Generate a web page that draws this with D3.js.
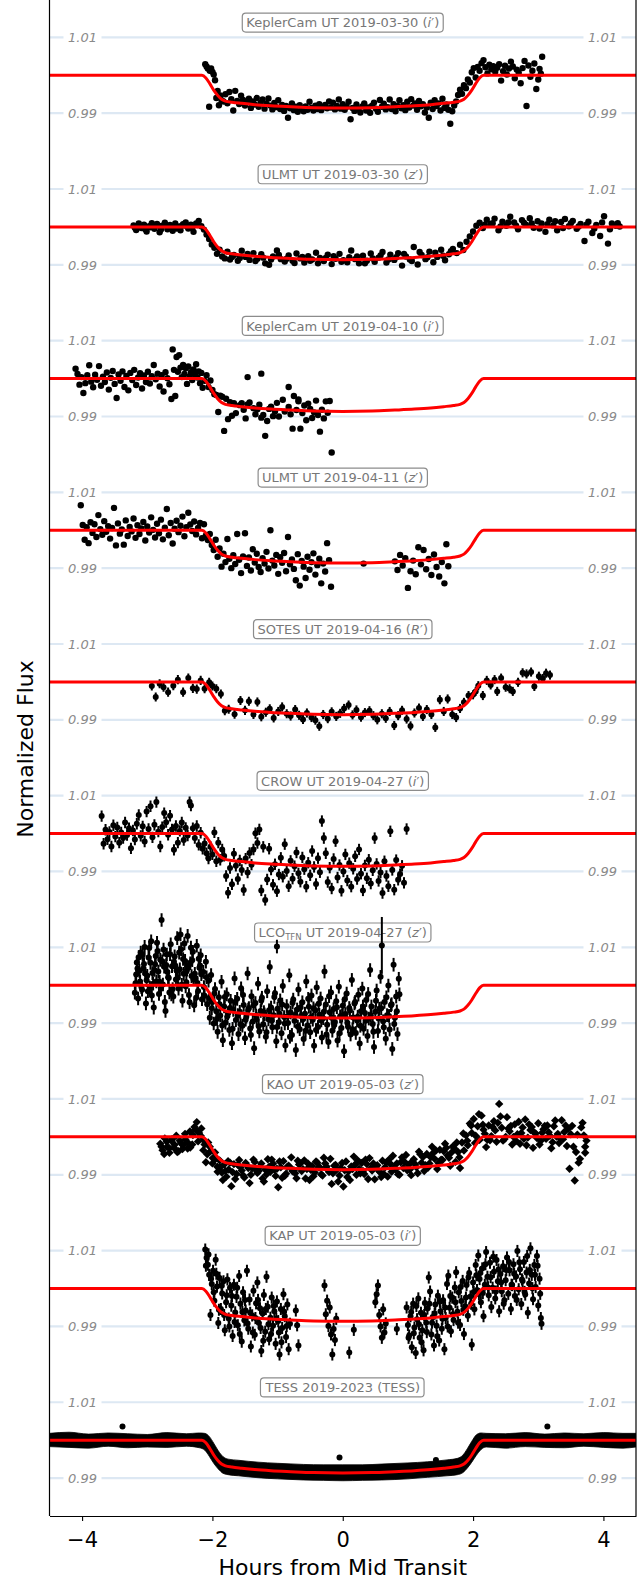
<!DOCTYPE html>
<html><head><meta charset="utf-8">
<script src="https://cdn.jsdelivr.net/npm/d3@7"></script>
<style>body{margin:0;background:#fff}svg{display:block}text{font-family:"DejaVu Sans",sans-serif}</style>
</head><body><svg id="chart" width="644" height="1580"></svg>
<script>
// ---------- data (hours from mid transit, flux deviation in ppt) ----------
const modelHours=[-4.5,-2.16,-2.10,-2.04,-1.98,-1.92,-1.86,-1.80,-1.70,-1.55,-1.35,-1.10,-0.80,-0.45,0,0.45,0.80,1.10,1.35,1.55,1.70,1.80,1.86,1.92,1.98,2.04,2.10,2.16,4.5];
const modelPpt=[0,0,-0.7,-2.2,-3.9,-5.3,-6.3,-6.8,-7.1,-7.4,-7.75,-8.05,-8.3,-8.55,-8.65,-8.55,-8.3,-8.05,-7.75,-7.4,-7.1,-6.8,-6.3,-5.3,-3.9,-2.2,-0.7,0,0];

const keplerCam0330=[[-2.11,2.9],[-2.09,2.3],[-2.07,1.8],[-2.05,-8.3],[-2.04,1.2],[-2.02,1.8],[-2.00,0.9],[-1.98,0.2],[-1.96,-1.3],[-1.94,-6.0],[-1.92,-4.1],[-1.90,-7.9],[-1.88,-5.3],[-1.86,-6.6],
[-1.83,-6.9],[-1.80,-5.0],[-1.77,-7.4],[-1.74,-4.4],[-1.71,-6.3],[-1.68,-9.3],[-1.65,-4.1],[-1.62,-6.8],[-1.59,-7.6],[-1.56,-5.4],[-1.53,-6.5],[-1.50,-8.0],[-1.47,-7.1],[-1.44,-6.2],[-1.41,-8.6],[-1.38,-6.9],[-1.35,-7.7],[-1.32,-6.0],[-1.29,-8.3],[-1.26,-7.2],[-1.23,-6.4],[-1.20,-8.8],[-1.17,-7.5],[-1.14,-6.1],[-1.11,-8.0],[-1.08,-9.0],[-1.05,-7.3],[-1.02,-8.4],[-0.99,-6.6],[-0.96,-8.9],[-0.93,-7.8],[-0.90,-9.4],[-0.87,-8.1],[-0.84,-11.2],[-0.81,-8.7],[-0.78,-7.4],[-0.75,-9.2],[-0.72,-8.3],[-0.69,-9.6],[-0.66,-7.9],[-0.63,-8.8],[-0.60,-9.5],[-0.57,-8.2],[-0.54,-9.1],[-0.51,-7.0],[-0.48,-8.6],[-0.45,-9.3],[-0.42,-8.0],[-0.39,-8.9],[-0.36,-7.6],[-0.33,-9.2],[-0.30,-8.4],[-0.27,-7.8],[-0.24,-8.7],[-0.21,-6.9],[-0.18,-8.5],[-0.15,-7.2],[-0.12,-9.0],[-0.09,-8.1],[-0.06,-6.4],[-0.03,-8.8],[0.00,-7.6],[0.03,-9.1],[0.06,-8.3],[0.09,-7.0],[0.12,-11.6],[0.15,-8.6],[0.18,-9.4],[0.21,-7.7],[0.24,-8.9],[0.27,-9.8],[0.30,-8.2],[0.33,-7.4],[0.36,-9.3],[0.39,-8.5],[0.42,-9.9],[0.45,-8.0],[0.48,-7.2],[0.51,-8.8],[0.54,-9.6],[0.57,-6.5],[0.60,-8.3],[0.63,-7.5],[0.66,-9.0],[0.69,-8.4],[0.72,-6.4],[0.75,-8.9],[0.78,-7.6],[0.81,-9.5],[0.84,-8.1],[0.87,-6.6],[0.90,-8.7],[0.93,-7.9],[0.96,-9.2],[0.99,-7.0],[1.02,-8.5],[1.05,-6.3],[1.08,-8.0],[1.11,-7.4],[1.14,-9.1],[1.17,-6.8],[1.20,-8.2],[1.23,-7.6],[1.26,-9.8],[1.29,-8.5],[1.32,-11.2],[1.35,-7.2],[1.38,-8.9],[1.41,-6.6],[1.44,-8.1],[1.47,-7.4],[1.50,-9.3],[1.53,-6.2],[1.56,-8.6],[1.59,-7.7],[1.62,-9.1],[1.65,-12.8],[1.68,-9.5],[1.71,-8.0],[1.74,-6.9],[1.77,-5.2],[1.80,-3.8],[1.83,-4.9],[1.86,-2.6],[1.89,-3.4],[1.92,-1.1],[1.95,-1.9],[1.98,0.8],[2.01,1.9],[2.04,-0.6],[2.07,2.2],
[2.10,1.2],[2.13,3.2],[2.16,4.0],[2.19,2.1],[2.22,0.5],[2.25,2.8],[2.28,1.6],[2.31,2.4],[2.34,0.9],[2.37,2.0],[2.40,2.9],[2.43,-1.4],[2.46,1.1],[2.49,2.5],[2.52,0.2],[2.55,1.8],[2.58,3.6],[2.61,2.3],[2.64,-0.8],[2.67,1.5],[2.70,0.7],[2.73,-2.1],[2.76,1.9],[2.79,3.8],[2.82,-8.1],[2.85,2.6],[2.88,-0.4],[2.91,1.2],[2.94,3.1],[2.97,-3.6],[3.00,-1.1],[3.02,1.7],[3.04,0.4],[3.06,4.9]];

const ulmt0330=[[-3.21,0.4],[-3.17,-0.8],[-3.13,0.9],[-3.09,-0.3],[-3.05,0.6],[-3.01,-1.2],[-2.97,0.2],[-2.93,1.0],[-2.89,-0.5],[-2.85,0.8],[-2.81,-1.4],[-2.77,0.3],[-2.73,1.1],[-2.69,-0.6],[-2.65,0.5],[-2.61,-1.0],[-2.57,0.9],[-2.53,0.1],[-2.49,-0.9],[-2.45,0.7],[-2.41,1.2],[-2.37,-0.4],[-2.33,0.6],[-2.29,-1.3],[-2.25,0.9],[-2.21,1.6],[-2.17,0.2],
[-2.13,-0.7],[-2.09,-2.0],[-2.05,-3.2],[-2.01,-4.6],[-1.97,-5.5],[-1.93,-7.1],[-1.89,-6.0],[-1.85,-7.8],[-1.81,-8.3],[-1.77,-6.5],
[-1.73,-8.6],[-1.67,-7.4],[-1.61,-8.9],[-1.55,-6.3],[-1.49,-7.9],[-1.43,-8.7],[-1.37,-6.9],[-1.31,-8.4],[-1.25,-7.2],[-1.19,-9.6],[-1.13,-10.0],[-1.07,-7.8],[-1.01,-6.2],[-0.95,-8.5],[-0.89,-9.1],[-0.83,-7.5],[-0.77,-8.9],[-0.71,-7.0],[-0.65,-8.3],[-0.59,-9.4],[-0.53,-7.7],[-0.47,-8.6],[-0.41,-6.8],[-0.35,-8.2],[-0.29,-9.0],[-0.23,-7.3],[-0.17,-9.8],[-0.11,-8.4],[-0.05,-7.1],[0.01,-8.8],[0.07,-9.3],[0.13,-6.2],[0.19,-8.5],[0.25,-9.6],[0.31,-7.6],[0.37,-8.9],[0.43,-7.0],[0.49,-9.2],[0.55,-8.1],[0.61,-6.6],[0.67,-9.4],[0.73,-7.3],[0.79,-8.7],[0.85,-6.9],[0.91,-10.2],[0.97,-7.8],[1.03,-8.6],[1.09,-5.3],[1.15,-9.9],[1.21,-7.4],[1.27,-8.5],[1.33,-6.5],[1.39,-9.3],[1.45,-7.9],[1.51,-6.0],[1.57,-8.8],[1.63,-7.2],[1.69,-5.8],[1.75,-6.9],
[1.80,-4.7],[1.85,-6.1],[1.90,-3.9],[1.95,-2.5],[2.00,-1.2],[2.05,0.3],[2.10,1.1],
[2.15,-0.3],[2.21,1.9],[2.27,0.8],[2.33,2.2],[2.39,-0.9],[2.45,1.4],[2.51,0.3],[2.57,2.7],[2.63,1.2],[2.69,-0.6],[2.75,1.8],[2.81,0.6],[2.87,2.3],[2.93,-0.2],[2.99,1.5],[3.05,0.9],[3.11,-1.3],[3.17,1.9],[3.23,0.4],[3.29,-0.9],[3.35,1.3],[3.41,2.1],[3.47,0.2],[3.53,1.6],[3.59,-0.5],[3.65,0.8],[3.71,-3.7],[3.77,1.4],[3.83,-1.6],[3.89,0.5],[3.95,-2.4],[4.01,2.8],[4.07,-4.4],[4.13,0.9],[4.19,0.3],[4.25,0.1],
[-3.19,-0.2],[-3.11,0.2],[-3.03,-0.6],[-2.95,-0.1],[-2.87,0.3],[-2.79,-0.7],[-2.71,0.4],[-2.63,0.0],[-2.55,-0.4],[-2.47,0.3],[-2.39,0.1],[-2.31,-0.2],[-2.23,0.5],
[-1.70,-7.9],[-1.58,-8.2],[-1.46,-7.1],[-1.34,-9.0],[-1.22,-8.1],[-1.10,-8.6],[-0.98,-7.4],[-0.86,-8.4],[-0.74,-9.5],[-0.62,-7.9],[-0.50,-8.9],[-0.38,-9.6],[-0.26,-8.2],[-0.14,-7.7],[-0.02,-9.2],[0.10,-8.0],[0.22,-7.8],[0.34,-9.6],[0.46,-8.3],[0.58,-7.5],[0.70,-8.6],[0.82,-8.0],[0.94,-7.1],[1.06,-9.0],[1.18,-6.6],[1.30,-8.0],[1.42,-6.8],[1.54,-7.6],[1.66,-6.4],
[2.18,0.6],[2.30,1.0],[2.42,0.1],[2.54,1.2],[2.66,0.3],[2.78,1.1],[2.90,0.9],[3.02,-0.4],[3.14,0.7],[3.26,1.5],[3.38,-0.3],[3.50,1.0],[3.62,0.1],[3.74,0.6],[3.86,-0.4],[3.98,1.2],[4.10,-0.6],[4.22,1.0]];

const keplerCam0410=[[-4.10,2.6],[-4.07,1.2],[-4.04,-1.6],[-4.01,0.4],[-3.98,-3.8],[-3.95,-1.2],[-3.92,0.9],[-3.89,3.5],[-3.86,-0.8],[-3.83,-2.3],[-3.80,1.0],[-3.77,-0.3],[-3.74,3.3],[-3.71,-1.9],[-3.68,0.5],[-3.65,-0.9],[-3.62,1.6],[-3.59,-2.9],[-3.56,0.2],[-3.53,2.0],[-3.50,-1.4],[-3.47,-5.1],[-3.44,1.1],[-3.41,-0.6],[-3.38,1.9],[-3.35,-2.2],[-3.32,0.7],[-3.29,-3.1],[-3.26,1.5],[-3.23,-0.4],[-3.20,2.3],[-3.17,-1.7],[-3.14,0.3],[-3.11,1.4],[-3.08,-2.6],[-3.05,0.8],[-3.02,-0.9],[-2.99,1.8],[-2.96,-1.3],[-2.93,0.6],[-2.90,3.6],[-2.87,-0.2],[-2.84,1.3],[-2.81,-2.1],[-2.78,0.9],[-2.75,-3.4],[-2.72,1.7],[-2.69,0.1],[-2.66,-1.5],[-2.63,-5.4],[-2.61,7.7],[-2.59,2.3],[-2.57,-4.6],[-2.55,5.7],[-2.53,1.8],[-2.51,6.2],[-2.49,2.9],[-2.47,0.4],[-2.45,3.6],[-2.43,1.2],[-2.41,2.7],[-2.39,-1.4],[-2.37,3.2],[-2.35,0.6],[-2.33,1.7],[-2.31,-0.4],[-2.29,2.4],[-2.27,1.1],[-2.25,3.8],[-2.23,0.3],[-2.21,1.9],[-2.19,-1.2],[-2.17,1.5],[-2.15,-2.4],
[-2.12,-0.6],[-2.09,0.9],[-2.06,-2.2],[-2.03,-0.5],[-2.00,-3.0],[-1.97,-4.1],[-1.94,-4.3],[-1.91,-8.8],[-1.88,-4.5],[-1.85,-4.8],[-1.82,-13.8],[-1.79,-5.3],[-1.76,-10.7],[-1.73,-6.2],[-1.70,-9.8],[-1.67,-6.5],[-1.64,-9.1],[-1.46,0.4],[-1.58,-7.0],[-1.55,-6.5],[-1.52,-8.2],[-1.49,-10.5],[-1.46,-6.8],[-1.43,-6.3],[-1.25,1.3],[-1.37,-7.8],[-1.34,-9.4],[-1.31,-8.1],[-1.28,-6.9],[-1.25,-10.3],[-1.22,-9.6],[-1.19,-15.1],[-1.16,-11.2],[-1.13,-8.0],[-1.10,-7.4],[-1.07,-9.9],[-1.04,-8.6],[-1.01,-6.4],[-0.98,-10.0],[-0.83,-2.2],[-0.92,-5.6],[-0.89,-8.7],[-0.75,-4.6],[-0.83,-7.5],[-0.80,-9.4],[-0.77,-13.2],[-0.68,-5.5],[-0.71,-8.3],[-0.68,-6.0],[-0.65,-13.2],[-0.62,-9.1],[-0.59,-7.1],[-0.56,-11.0],[-0.53,-6.6],[-0.50,-8.0],[-0.47,-10.4],[-0.44,-8.9],[-0.41,-5.8],[-0.38,-9.6],[-0.35,-14.0],[-0.32,-8.2],[-0.29,-10.5],[-0.26,-6.0],[-0.23,-9.0],[-0.20,-5.9],[-0.17,-19.5]];

const ulmt0411=[[-4.02,6.6],[-3.99,1.4],[-3.96,-2.5],[-3.93,0.8],[-3.90,-3.4],[-3.87,2.1],[-3.84,-0.7],[-3.81,1.6],[-3.78,-1.8],[-3.75,4.0],[-3.72,0.3],[-3.69,-1.2],[-3.66,2.4],[-3.63,-0.4],[-3.60,1.1],[-3.57,-2.2],[-3.54,0.6],[-3.51,5.9],[-3.48,-4.0],[-3.45,1.8],[-3.42,-0.9],[-3.39,0.2],[-3.36,-3.8],[-3.33,2.6],[-3.30,-1.5],[-3.27,0.9],[-3.24,-0.3],[-3.21,3.1],[-3.18,-2.0],[-3.15,1.3],[-3.12,-1.0],[-3.09,0.5],[-3.06,2.2],[-3.03,-2.7],[-3.00,1.0],[-2.97,-0.6],[-2.94,3.4],[-2.91,0.1],[-2.88,-1.9],[-2.85,1.7],[-2.82,-0.8],[-2.79,2.8],[-2.76,-2.4],[-2.73,0.7],[-2.70,5.6],[-2.67,-1.3],[-2.64,1.9],[-2.61,-3.5],[-2.58,0.4],[-2.55,2.5],[-2.52,-0.5],[-2.49,1.2],[-2.46,3.6],[-2.43,-1.6],[-2.40,0.8],[-2.37,4.6],[-2.34,1.5],[-2.31,-0.2],[-2.28,2.3],[-2.25,-1.1],[-2.22,0.6],[-2.19,1.9],[-2.16,-2.1],[-2.13,1.6],[-2.10,-1.4],
[-2.07,-2.6],[-2.04,-1.0],[-2.01,-3.9],[-1.98,-5.2],[-1.95,-2.5],[-1.92,-7.0],[-1.89,-4.8],[-1.86,-9.6],[-1.83,-6.2],[-1.80,-8.4],[-1.77,-2.3],[-1.74,-7.5],[-1.71,-10.0],[-1.68,-6.6],[-1.65,-8.9],[-1.62,-1.0],[-1.59,-7.8],[-1.56,-11.3],[-1.53,-6.9],[-1.50,-0.8],[-1.47,-9.4],[-1.44,-7.2],[-1.41,-10.6],[-1.38,-5.0],[-1.35,-8.5],[-1.32,-6.2],[-1.29,-9.7],[-1.26,-11.0],[-1.23,-7.4],[-1.20,-8.8],[-1.17,-5.7],[-1.14,-10.1],[-1.11,0.0],[-1.08,-8.0],[-1.05,-9.3],[-1.02,-6.5],[-0.99,-11.5],[-0.96,-7.1],[-0.93,-8.6],[-0.90,-6.0],[-0.87,-10.8],[-0.84,-1.8],[-0.81,-9.0],[-0.78,-7.7],[-0.75,-10.2],[-0.72,-13.2],[-0.69,-6.3],[-0.66,-14.6],[-0.63,-8.1],[-0.60,-9.6],[-0.57,-12.6],[-0.54,-7.0],[-0.51,-10.4],[-0.48,-8.4],[-0.45,-6.1],[-0.42,-11.7],[-0.39,-9.2],[-0.36,-7.5],[-0.33,-14.0],[-0.30,-8.8],[-0.27,-10.9],[-0.24,-3.4],[-0.21,-7.9],[-0.18,-14.9],
[0.32,-8.8],
[0.80,-8.2],[0.84,-10.5],[0.88,-6.5],[0.92,-9.3],[0.96,-7.4],[1.00,-15.2],[1.04,-10.8],[1.08,-8.0],[1.12,-11.6],[1.16,-4.5],[1.20,-9.0],[1.24,-5.2],[1.28,-10.3],[1.32,-7.6],[1.36,-11.8],[1.40,-6.4],[1.44,-9.7],[1.48,-12.2],[1.52,-8.4],[1.56,-14.0],[1.59,-3.7],[1.62,-9.5]];

const sotes0416=[[-2.93,-1.1],[-2.87,-4.0],[-2.81,-0.5],[-2.75,-1.4],[-2.68,-2.7],[-2.60,-1.0],[-2.53,0.6],[-2.45,-2.7],[-2.37,1.0],[-2.30,-1.7],[-2.24,-1.9],[-2.18,0.4],[-2.12,-1.8],[-2.05,-0.1],[-2.00,-1.1],[-1.94,-1.8],[-1.87,-3.2],[-1.81,-7.6],[-1.75,-7.2],[-1.66,-8.5],
[-1.57,-4.9],[-1.50,-7.5],[-1.44,-5.1],[-1.37,-8.6],[-1.31,-5.3],[-1.25,-9.2],[-1.18,-8.0],[-1.12,-7.1],[-1.06,-9.5],[-0.99,-7.8],[-0.93,-6.6],[-0.86,-8.4],[-0.80,-9.0],[-0.73,-7.3],[-0.67,-8.8],[-0.61,-9.9],[-0.55,-8.2],[-0.48,-9.4],[-0.42,-10.1],[-0.36,-11.7],[-0.30,-8.6],[-0.23,-9.7],[-0.17,-7.9],[-0.10,-9.1],[-0.04,-8.3],[0.02,-7.0],[0.09,-6.1],[0.15,-8.7],[0.21,-7.4],[0.28,-9.3],[0.34,-8.1],[0.41,-7.6],[0.47,-8.9],[0.53,-10.0],[0.60,-8.4],[0.66,-9.6],[0.72,-7.8],[0.79,-11.5],[0.85,-8.9],[0.91,-7.5],[0.98,-9.8],[1.04,-11.6],[1.10,-8.2],[1.17,-6.9],[1.23,-9.1],[1.29,-7.3],[1.36,-8.6],[1.42,-12.0],[1.49,-4.7],[1.55,-7.8],[1.61,-4.5],[1.68,-8.6],
[1.74,-9.4],[1.80,-7.0],[1.86,-5.4],[1.93,-3.6],[2.00,-3.4],[2.04,-2.5],[2.08,-1.0],
[2.15,-3.6],[2.21,0.4],[2.27,-0.8],[2.33,0.6],[2.37,-2.5],[2.43,1.0],[2.50,-1.4],[2.56,-1.8],[2.61,-2.5],[2.69,-0.1],[2.76,2.4],[2.82,2.1],[2.89,2.6],[2.94,-1.2],[3.01,1.5],[3.07,0.9],[3.12,2.3],[3.18,1.8]];

const crow0427=[[-3.70,4.6],[-3.67,-2.7],[-3.64,1.0],[-3.61,-1.5],[-3.58,0.4],[-3.55,-3.4],[-3.52,2.2],[-3.49,-0.8],[-3.46,1.6],[-3.43,-2.4],[-3.40,0.3],[-3.37,-1.2],[-3.34,2.9],[-3.31,-0.4],[-3.28,1.4],[-3.25,-3.9],[-3.22,0.8],[-3.19,-1.6],[-3.16,2.6],[-3.13,4.9],[-3.10,-0.6],[-3.07,1.9],[-3.04,-2.1],[-3.01,5.8],[-2.98,1.2],[-2.95,7.2],[-2.92,-1.0],[-2.89,2.3],[-2.86,8.3],[-2.83,0.5],[-2.80,-3.4],[-2.77,1.7],[-2.74,5.4],[-2.71,3.0],[-2.68,-0.3],[-2.65,4.7],[-2.62,1.1],[-2.59,-4.3],[-2.56,2.0],[-2.53,-2.4],[-2.50,0.7],[-2.47,2.9],[-2.44,-1.7],[-2.41,1.5],[-2.38,-0.5],[-2.35,8.3],[-2.33,7.4],[-2.30,1.4],[-2.27,-1.2],[-2.24,2.0],[-2.21,-3.0],[-2.18,0.2],[-2.15,-4.0],[-2.12,-2.6],[-2.09,-5.2],
[-2.06,-6.6],[-2.03,-3.5],[-2.00,-5.5],[-1.97,0.3],[-1.94,-7.3],[-1.91,-2.4],[-1.88,-6.9],[-1.85,-4.2],[-1.82,-5.9],[-1.79,-11.2],[-1.76,-15.6],[-1.73,-9.1],[-1.70,-13.4],[-1.67,-5.3],[-1.64,-8.5],[-1.61,-12.0],[-1.58,-7.1],[-1.55,-9.6],[-1.52,-14.9],[-1.49,-6.6],[-1.46,-10.3],[-1.43,-5.1],[-1.40,-8.2],[-1.37,-4.2],[-1.34,0.1],[-1.31,-2.5],[-1.28,1.1],[-1.25,-15.0],[-1.22,-3.5],[-1.19,-17.5],[-1.16,-12.1],[-1.13,-4.0],[-1.10,-9.5],[-1.07,-13.5],[-1.04,-8.1],[-1.01,-15.2],[-0.98,-10.8],[-0.95,-6.4],[-0.92,-11.4],[-0.89,-2.8],[-0.86,-9.9],[-0.83,-13.9],[-0.80,-7.2],[-0.77,-11.9],[-0.74,-8.6],[-0.71,-5.0],[-0.68,-10.5],[-0.65,-12.7],[-0.62,-6.3],[-0.59,-9.4],[-0.56,-14.0],[-0.53,-7.7],[-0.50,-11.0],[-0.47,-4.6],[-0.44,-8.8],[-0.41,-13.3],[-0.38,-6.5],[-0.35,-10.2],[-0.32,3.3],[-0.29,-1.2],[-0.26,-5.2],[-0.23,-12.8],[-0.20,-9.0],[-0.17,-14.5],[-0.14,-6.7],[-0.11,-2.0],[-0.08,-11.6],[-0.05,-8.3],[-0.02,-15.1],[0.01,-10.0],[0.04,-5.5],[0.07,-12.4],[0.10,-7.8],[0.13,-14.0],[0.16,-9.3],[0.19,-6.0],[0.22,-12.0],[0.25,-4.2],[0.28,-10.6],[0.31,-15.0],[0.34,-8.4],[0.37,-11.8],[0.40,-6.9],[0.43,-13.2],[0.46,-9.7],[0.49,-1.2],[0.52,-8.0],[0.55,-12.5],[0.58,-10.3],[0.61,-15.7],[0.64,-7.3],[0.67,-11.2],[0.70,-13.9],[0.73,0.6],[0.76,-9.6],[0.79,-14.8],[0.82,-7.0],[0.85,-12.2],[0.88,-10.7],[0.91,-8.5],[0.94,-13.0],[0.98,1.2]];

const lco0427=[[-3.18,0.5],[-3.16,6.0],[-3.14,-3.5],[-3.12,3.8],[-3.10,8.6],[-3.08,-1.2],[-3.06,4.4],[-3.04,10.1],[-3.02,-4.8],[-3.00,2.5],[-2.98,7.3],[-2.96,-0.6],[-2.94,11.6],[-2.92,3.2],[-2.90,-5.9],[-2.88,5.5],[-2.86,1.0],[-2.84,9.0],[-2.82,-2.3],[-2.80,6.7],[-2.78,17.2],[-2.76,0.2],[-2.74,4.9],[-2.72,-6.8],[-2.70,8.1],[-2.68,2.1],[-2.66,-1.9],[-2.64,10.8],[-2.62,5.0],[-2.60,-3.0],[-2.58,7.6],[-2.56,1.5],[-2.54,12.4],[-2.52,-0.9],[-2.50,4.2],[-2.48,9.5],[-2.46,-4.1],[-2.44,3.0],[-2.42,6.4],[-2.40,0.8],[-2.38,13.0],[-2.36,-2.6],[-2.34,5.8],[-2.32,2.4],[-2.30,8.8],[-2.28,-5.3],[-2.26,1.7],[-2.24,10.4],[-2.22,-1.5],[-2.20,4.6],[-2.18,7.9],[-2.16,-3.7],
[-2.14,3.5],[-2.12,-2.8],[-2.10,6.2],[-2.08,-5.0],[-2.06,1.2],[-2.04,-8.6],[-2.02,2.7],[-2.00,-4.4],[-1.98,-10.1],[-1.96,-1.0],[-1.94,-6.9],[-1.92,-12.3],[-1.90,-3.2],[-1.88,-8.0],[-1.86,0.9],[-1.84,-14.5],[-1.82,-5.6],[-1.80,-9.9],[-1.78,-2.4],[-1.76,-7.4],[-1.74,-11.8],[-1.72,-4.1],[-1.70,-15.3],[-1.68,-6.5],[-1.66,1.8],[-1.64,-9.2],[-1.62,-3.6],[-1.60,-12.9],[-1.58,-7.0],[-1.56,-0.8],[-1.54,-10.7],[-1.52,-5.2],[-1.50,-14.0],[-1.48,-8.3],[-1.46,3.1],[-1.44,-6.0],[-1.42,-11.4],[-1.40,-2.9],[-1.38,-9.6],[-1.36,-16.6],[-1.34,-4.7],[-1.32,-8.9],[-1.30,0.4],[-1.28,-12.2],[-1.26,-6.8],[-1.24,-3.3],[-1.22,-10.3],[-1.20,-7.7],[-1.18,-13.6],[-1.16,-1.6],[-1.14,-9.0],[-1.12,4.8],[-1.10,-5.9],[-1.08,-11.1],[-1.06,-7.9],[-1.04,-2.1],[-1.02,-14.8],[-1.01,10.2],[-1.00,-6.2],[-0.98,-9.8],[-0.96,-4.0],[-0.94,-12.7],[-0.92,-0.2],[-0.90,-8.4],[-0.88,-15.9],[-0.86,-5.5],[-0.84,-10.0],[-0.82,2.6],[-0.80,-7.2],[-0.78,-13.1],[-0.76,-3.8],[-0.74,-9.4],[-0.72,-17.1],[-0.70,-6.4],[-0.68,-1.1],[-0.66,-11.6],[-0.64,-8.1],[-0.62,-4.5],[-0.60,-14.2],[-0.58,-7.5],[-0.56,1.0],[-0.54,-10.6],[-0.52,-5.7],[-0.50,-12.4],[-0.48,-2.7],[-0.46,-9.1],[-0.44,-16.0],[-0.42,-6.6],[-0.40,-0.6],[-0.38,-11.0],[-0.36,-7.8],[-0.34,-3.5],[-0.32,-13.8],[-0.30,-8.7],[-0.28,3.6],[-0.26,-5.1],[-0.24,-10.4],[-0.22,-15.0],[-0.20,-7.1],[-0.18,-1.9],[-0.16,-12.0],[-0.14,-6.3],[-0.12,-9.7],[-0.10,-4.2],[-0.08,-14.6],[-0.06,-0.4],[-0.04,-8.2],[-0.02,-11.3],[0.00,-5.4],[0.02,-17.4],[0.04,-7.6],[0.06,-2.2],[0.08,-10.9],[0.10,-6.0],[0.12,-13.0],[0.14,1.4],[0.16,-8.5],[0.18,-4.8],[0.20,-12.6],[0.22,-9.3],[0.24,-2.5],[0.26,-15.4],[0.28,-6.9],[0.30,-0.9],[0.32,-11.5],[0.34,-7.3],[0.36,-3.9],[0.38,-13.4],[0.40,-8.8],[0.42,4.0],[0.44,-5.6],[0.46,-10.2],[0.48,-16.3],[0.50,-7.0],[0.52,-1.4],[0.54,-12.1],[0.56,-6.2],[0.58,2.2],[0.60,10.5,7.5],[0.62,-9.5],[0.64,-4.4],[0.66,-14.1],[0.68,-7.9],[0.70,-0.1],[0.72,-11.7],[0.74,-5.3],[0.76,-16.8],[0.78,5.4],[0.80,-8.6],[0.82,-3.0],[0.84,-12.9],[0.86,1.7],
[-3.17,2.8],[-3.13,7.4],[-3.09,-0.5],[-3.05,5.6],[-3.01,1.3],[-2.97,9.8],[-2.93,-2.7],[-2.89,4.0],[-2.85,11.2],[-2.81,0.9],[-2.77,6.3],[-2.73,-4.4],[-2.69,3.5],[-2.65,8.2],[-2.61,-1.0],[-2.57,5.1],[-2.53,2.0],[-2.49,13.4],[-2.45,6.9],[-2.41,-0.3],[-2.37,4.8],[-2.33,9.9],[-2.29,1.6],[-2.25,-3.3],[-2.21,7.0],[-2.17,2.9],
[-3.19,-2.0],[-3.15,4.4],[-3.11,1.0],[-3.07,8.0],[-3.03,3.1],[-2.99,-1.6],[-2.95,5.9],[-2.91,0.4],[-2.87,7.7],[-2.83,3.6],[-2.79,-0.9],[-2.75,9.4],[-2.71,5.3],[-2.67,1.9],[-2.63,-2.4],[-2.59,6.1],[-2.55,3.9],[-2.51,8.6],[-2.47,0.1],[-2.43,11.0],[-2.39,4.1],[-2.35,-4.5],[-2.31,6.6],[-2.27,3.0],[-2.23,0.6],[-2.19,5.2],
[-2.13,-0.5],[-2.09,2.1],[-2.05,-3.4],[-2.01,-6.1],[-1.97,-2.2],[-1.93,-8.9],[-1.89,-5.0],[-1.85,-10.6],[-1.81,-3.1],[-1.77,-8.2],[-1.73,-6.0],[-1.69,-11.5],[-1.65,-4.4],[-1.61,-7.9],[-1.57,-10.3],[-1.53,-2.6],[-1.49,-9.1],[-1.45,-6.4],[-1.41,-13.1],[-1.37,-5.3],[-1.33,-8.0],[-1.29,-10.8],[-1.25,-4.0],[-1.21,-7.1],[-1.17,-12.4],[-1.13,-6.6],[-1.09,-9.4],[-1.05,-3.1],[-1.01,-11.0],[-0.97,-7.5],[-0.93,-5.1],[-0.89,-10.1],[-0.85,-8.2],[-0.81,-13.6],[-0.77,-4.6],[-0.73,-7.8],[-0.69,-10.9],[-0.65,-5.9],[-0.61,-9.0],[-0.57,-12.0],[-0.53,-3.6],[-0.49,-8.4],[-0.45,-6.1],[-0.41,-11.8],[-0.37,-4.9],[-0.33,-9.3],[-0.29,-7.0],[-0.25,-13.0],[-0.21,-2.9],[-0.17,-8.6],[-0.13,-10.5],[-0.09,-5.8],[-0.05,-12.7],[-0.01,-8.0],[0.03,-3.7],[0.07,-9.9],[0.11,-6.7],[0.15,-11.6],[0.19,-4.4],[0.23,-8.3],[0.27,-10.7],[0.31,-5.6],[0.35,-9.4],[0.39,-2.3],[0.43,-7.9],[0.47,-12.3],[0.51,-4.1],[0.55,-8.8],[0.59,-6.1],[0.63,-11.1],[0.67,-3.2],[0.71,-8.1],[0.75,-5.0],[0.79,-10.2],[0.83,-6.9],[0.87,-2.4]];

const kao0503=[[-2.80,-1.8],[-2.765,-3.5],[-2.73,-0.4],[-2.695,-2.6],[-2.66,-4.2],[-2.625,-1.1],[-2.59,-2.9],[-2.555,0.3],[-2.52,-3.8],[-2.485,-1.6],[-2.45,-2.2],[-2.415,-0.7],[-2.38,-3.1],[-2.345,1.4],[-2.31,-2.0],[-2.275,2.6],[-2.24,3.9],[-2.205,1.0],[-2.17,2.2],[-2.135,-0.9],[-2.10,-6.7],[-2.065,-1.5],[-2.03,-3.8],[-1.995,-5.6],[-1.96,-4.1],[-1.925,-7.9],[-1.89,-6.2],[-1.855,-9.4],[-1.82,-7.3],[-1.785,-10.5],
[-1.75,-8.6],[-1.71,-13.0],[-1.67,-7.2],[-1.63,-9.8],[-1.59,-6.1],[-1.55,-8.9],[-1.51,-10.7],[-1.47,-7.5],[-1.43,-12.2],[-1.39,-8.3],[-1.35,-6.6],[-1.31,-9.5],[-1.27,-7.8],[-1.23,-11.0],[-1.19,-8.6],[-1.15,-5.9],[-1.11,-9.2],[-1.07,-7.1],[-1.03,-10.3],[-0.99,-13.3],[-0.95,-8.0],[-0.91,-6.4],[-0.87,-9.7],[-0.83,-7.6],[-0.79,-5.4],[-0.75,-8.8],[-0.71,-10.9],[-0.67,-7.3],[-0.63,-9.0],[-0.59,-6.2],[-0.55,-8.5],[-0.51,-11.4],[-0.47,-7.7],[-0.43,-9.4],[-0.39,-6.8],[-0.35,-8.1],[-0.31,-10.2],[-0.27,-7.0],[-0.23,-8.7],[-0.19,-5.8],[-0.15,-9.6],[-0.11,-7.4],[-0.07,-11.8],[-0.03,-8.2],[0.01,-13.1],[0.05,-6.5],[0.09,-9.1],[0.13,-7.8],[0.17,-5.2],[0.21,-10.0],[0.25,-8.4],[0.29,-6.9],[0.33,-9.8],[0.37,-7.2],[0.41,-5.6],[0.45,-8.9],[0.49,-11.2],[0.53,-7.5],[0.57,-9.3],[0.61,-6.3],[0.65,-8.0],[0.69,-10.5],[0.73,-7.1],[0.77,-5.0],[0.81,-8.6],[0.85,-9.9],[0.89,-6.7],[0.93,-8.2],[0.97,-4.8],[1.01,-7.4],[1.05,-10.1],[1.09,-5.9],[1.13,-8.0],[1.17,-3.9],[1.21,-6.8],[1.25,-9.0],[1.29,-4.5],[1.33,-7.0],[1.37,-2.6],[1.41,-5.8],[1.45,-8.5],[1.49,-3.4],[1.53,-6.1],[1.57,-1.8],[1.61,-4.9],[1.65,-7.6],[1.69,-2.5],[1.73,-6.6],
[-1.73,-6.8],[-1.65,-11.1],[-1.57,-8.0],[-1.49,-6.9],[-1.41,-10.0],[-1.33,-8.8],[-1.25,-7.0],[-1.17,-9.9],[-1.09,-6.0],[-1.01,-8.4],[-0.93,-10.8],[-0.85,-7.9],[-0.77,-9.1],[-0.69,-6.3],[-0.61,-8.5],[-0.53,-7.1],[-0.45,-10.4],[-0.37,-8.0],[-0.29,-5.5],[-0.21,-9.3],[-0.13,-7.6],[-0.05,-10.2],[0.03,-8.8],[0.11,-11.4],[0.19,-7.3],[0.27,-9.6],[0.35,-6.0],[0.43,-8.3],[0.51,-7.7],[0.59,-10.6],[0.67,-6.8],[0.75,-9.2],[0.83,-7.0],[0.91,-5.4],[0.99,-8.8],[1.07,-6.4],[1.15,-9.6],[1.23,-5.3],[1.31,-8.1],[1.39,-4.2],[1.47,-6.9],[1.55,-3.8],[1.63,-5.5],[1.71,-3.0],
[1.77,-4.0],[1.80,-8.2],[1.83,-1.5],[1.86,-3.6],[1.89,0.4],[1.92,-2.2],[1.95,3.5],[1.98,1.0],[2.01,4.7],[2.04,0.3],[2.07,2.8],[2.10,-0.8],[2.13,5.6],
[2.16,1.9],[2.20,-2.7],[2.24,3.0],[2.28,0.2],[2.32,4.1],[2.36,-1.3],[2.40,8.7],[2.44,2.4],[2.48,-0.6],[2.52,5.2],[2.56,1.5],[2.60,-2.0],[2.64,3.3],[2.68,0.7],[2.72,-1.8],[2.76,2.5],[2.80,4.6],[2.84,-0.2],[2.88,1.8],[2.92,-2.9],[2.96,0.9],[3.00,3.6],[3.04,-1.0],[3.08,2.0],[3.12,-0.5],[3.16,1.2],[3.20,-3.0],[3.24,2.8],[3.28,0.1],[3.32,-1.6],[3.36,4.4],[3.40,1.3],[3.44,-2.4],[3.48,-8.4],[3.52,2.9],[3.56,-11.5],[3.60,0.6],[3.64,-5.8],[3.68,3.7],[3.72,-4.2],[3.74,-1.0],
[2.18,0.8],[2.26,-0.9],[2.34,1.7],[2.42,5.4],[2.50,0.0],[2.58,2.9],[2.66,-1.1],[2.74,1.0],[2.82,-2.2],[2.90,2.6],[2.98,-0.3],[3.06,1.1],[3.14,3.0],[3.22,-1.4],[3.30,0.8],[3.38,-0.6],[3.46,2.1],[3.54,-2.6],[3.62,-6.8],[3.70,0.4],
[-2.78,-2.6],[-2.74,-4.5],[-2.70,-1.3],[-2.66,-3.0],[-2.62,-0.6],[-2.58,-2.1],[-2.54,-4.0],[-2.50,-1.0],[-2.46,-3.2],[-2.42,0.8],[-2.38,-1.5],[-2.34,-2.8],[-2.30,0.5],[-2.26,1.9],[-2.22,-1.2],[-2.18,0.3],[-2.14,-3.5],[-2.12,-2.0],
[-2.08,-4.6],[-2.04,-2.6],[-2.00,-7.0],[-1.96,-6.0],[-1.92,-9.2],[-1.88,-8.0],[-1.84,-11.4],[-1.80,-9.0],[-1.76,-6.4],
[-1.69,-9.3],[-1.61,-7.4],[-1.53,-10.1],[-1.45,-8.2],[-1.37,-6.0],[-1.29,-9.0],[-1.21,-11.8],[-1.13,-7.9],[-1.05,-8.6],[-0.97,-6.5],[-0.89,-10.3],[-0.81,-8.1],[-0.73,-9.6],[-0.65,-7.0],[-0.57,-11.0],[-0.49,-8.7],[-0.41,-6.5],[-0.33,-9.9],[-0.25,-7.8],[-0.17,-12.4],[-0.09,-8.6],[-0.01,-6.9],[0.07,-10.6],[0.15,-8.5],[0.23,-6.2],[0.31,-9.0],[0.39,-11.1],[0.47,-7.0],[0.55,-8.9],[0.63,-9.8],[0.71,-6.0],[0.79,-8.1],[0.87,-10.0],[0.95,-6.6],[1.03,-8.6],[1.11,-7.2],[1.19,-4.6],[1.27,-7.5],[1.35,-5.4],[1.43,-3.6],[1.51,-6.0],[1.59,-2.9],[1.67,-4.1],
[1.75,-1.5],[1.79,-5.4],[1.85,0.9],[1.91,-1.0],[1.97,3.0],[2.03,-1.6],[2.09,6.0],[2.15,3.2],[2.22,-0.8],[2.30,2.6],[2.38,3.7],[2.46,-1.0],[2.54,2.2],[2.62,0.0],[2.70,4.0],[2.78,-0.5],[2.86,3.3],[2.94,1.1],[3.02,-2.0],[3.10,2.9],[3.18,0.3],[3.26,4.3],[3.34,-0.4],[3.42,3.0],[3.50,0.7],[3.58,-4.0],[3.66,2.5],[3.72,-2.6]];

const kap0503=[[-2.11,10.3],[-2.09,8.1],[-2.07,6.3],[-2.05,3.6],[-2.03,-7.0],[-2.01,1.2],[-1.99,4.7],[-1.97,-3.2],[-1.95,7.6],[-1.93,0.5],[-1.91,-9.1],[-1.89,2.8],[-1.87,-5.4],[-1.85,-1.3],[-1.83,1.9],[-1.81,-11.0],[-1.79,-3.6],[-1.77,2.4],[-1.75,-7.9],[-1.73,0.2],[-1.71,-4.5],[-1.69,-12.5],[-1.67,1.0],[-1.65,-6.3],[-1.63,-2.2],[-1.61,-9.7],[-1.59,3.3],[-1.57,-4.0],[-1.55,-14.0],[-1.53,-1.0],[-1.51,-8.4],[-1.49,-5.8],[-1.47,4.7],[-1.45,-10.6],[-1.43,-2.9],[-1.41,-15.3],[-1.39,-7.1],[-1.37,-0.6],[-1.35,-12.2],[-1.33,-3.9],[-1.31,1.6],[-1.29,-9.0],[-1.27,-5.2],[-1.25,-16.5],[-1.23,-6.6],[-1.21,-1.7],[-1.19,-11.4],[-1.17,3.1],[-1.15,-4.8],[-1.13,-13.4],[-1.11,-7.7],[-1.09,-2.4],[-1.07,-9.8],[-1.05,-6.0],[-1.03,-14.6],[-1.01,-3.4],[-0.99,-8.6],[-0.97,-17.4],[-0.95,-5.4],[-0.93,-10.4],[-0.91,-1.5],[-0.89,-7.3],[-0.87,-12.8],[-0.85,-4.2],[-0.83,-16.0],[-0.81,-9.3],
[-0.72,-5.8],[-0.70,-9.7],[-0.68,-15.0],
[-0.28,0.8],[-0.26,-6.8],[-0.24,-3.2],[-0.22,-9.9],[-0.20,-5.0],[-0.18,-12.1],[-0.16,-17.4],[-0.14,-10.7],[-0.12,-13.6],[-0.10,-8.0],
[0.10,-16.9],[0.17,-10.9],
[0.50,-3.6],[0.52,-1.5],[0.54,0.8],[0.56,-7.0],[0.58,-10.0],[0.60,-13.0],[0.62,-5.5],[0.64,-11.6],[0.66,-9.2],[0.83,-10.7],
[0.98,-5.0],[1.00,-9.6],[1.02,-12.4],[1.04,-7.3],[1.06,-15.5],[1.08,-4.0],[1.10,-10.3],[1.12,-17.0],[1.14,-8.1],[1.16,-2.6],[1.18,-13.0],[1.20,-6.4],[1.22,-11.0],[1.24,-16.3],[1.26,-3.8],[1.28,-9.0],[1.30,-5.3],[1.32,2.9],[1.34,-0.8],[1.36,-12.1],[1.38,-7.5],[1.40,-15.0],[1.42,-4.2],[1.44,-9.8],[1.46,-1.9],[1.48,-13.7],[1.50,-6.0],[1.52,-10.6],[1.54,-3.1],[1.56,-16.0],[1.58,-7.8],[1.60,1.2],[1.62,3.4],[1.64,-5.1],[1.66,-11.3],[1.68,-2.4],[1.70,-8.3],[1.72,0.3],[1.74,4.3],[1.76,-6.1],[1.78,-1.0],[1.80,-9.6],[1.82,-3.3],[1.84,2.0],[1.86,-12.0],[1.88,-4.7],[1.90,0.9],[1.92,-7.2],[1.94,4.1],[1.96,-2.1],[1.98,-14.8],[2.00,1.6],[2.02,-5.5],[2.04,6.2],[2.06,-0.4],[2.08,8.7],[2.10,2.5],[2.12,-3.6],[2.14,5.3],[2.16,-7.3],[2.18,1.0],[2.20,9.6],[2.22,3.1],[2.24,-1.8],[2.26,6.8],[2.28,-4.9],[2.30,0.2],[2.32,4.4],[2.34,-2.6],[2.36,7.5],[2.38,1.9],[2.40,-6.0],[2.42,3.8],[2.44,-0.7],[2.46,5.9],[2.48,-3.1],[2.50,2.2],[2.52,8.2],[2.54,-1.4],[2.56,4.8],[2.58,-5.4],[2.60,0.9],[2.62,6.4],[2.64,-2.0],[2.66,3.2],[2.68,9.9],[2.70,-0.2],[2.72,5.1],[2.74,-4.1],[2.76,2.0],[2.78,7.0],[2.80,-1.6],[2.82,4.2],[2.84,-6.4],[2.86,1.3],[2.88,10.6],[2.90,3.6],[2.92,-2.8],[2.94,6.2],[2.96,0.4],[2.98,8.6],[3.00,-4.5],[3.02,2.6],[3.04,-7.8],[3.05,-9.3],
[-2.10,6.0],[-2.06,9.0],[-2.02,2.6],[-1.98,-1.0],[-1.94,3.9],[-1.90,-5.6],[-1.86,0.7],[-1.82,-7.0],[-1.78,-1.8],[-1.74,-10.0],[-1.70,-2.0],[-1.66,-8.8],[-1.62,0.2],[-1.58,-12.0],[-1.54,-6.2],[-1.50,-3.0],[-1.46,-9.2],[-1.42,-6.4],[-1.38,-11.6],[-1.34,-7.8],[-1.30,-3.0],[-1.26,-10.4],[-1.22,-13.8],[-1.18,-5.4],[-1.14,-9.4],[-1.10,-12.0],[-1.06,-4.6],[-1.02,-8.0],[-0.98,-11.6],[-0.94,-14.2],[-0.90,-6.1],[-0.86,-9.9],
[1.01,-13.0],[1.05,-6.2],[1.09,-11.8],[1.13,-4.6],[1.17,-9.4],[1.21,-14.2],[1.25,-7.0],[1.29,-11.5],[1.33,-4.0],[1.37,-9.0],[1.41,-6.6],[1.45,-12.6],[1.49,-3.5],[1.53,-8.0],[1.57,-5.0],[1.61,-10.0],[1.65,-2.0],[1.69,-6.8],[1.73,-3.6],[1.77,-9.0],[1.81,0.4],[1.85,-5.6],[1.89,-2.4],[1.93,3.0],[1.97,-4.0],[2.01,-0.9],[2.05,3.5],[2.09,-1.5],
[2.11,4.1],[2.15,-1.2],[2.19,6.4],[2.23,0.3],[2.27,3.0],[2.31,8.4],[2.35,-0.8],[2.39,5.0],[2.43,1.6],[2.47,-4.0],[2.51,4.9],[2.55,7.0],[2.59,1.0],[2.63,3.9],[2.67,-3.0],[2.71,6.9],[2.75,2.4],[2.79,-0.9],[2.83,8.6],[2.87,4.9],[2.91,0.1],[2.95,3.6],[2.99,6.0],[3.03,-1.4]];

const tessHours=[-4.5,-4.2,-3.9,-3.6,-3.3,-3.0,-2.7,-2.4,-2.2,-2.12,-2.05,-1.98,-1.91,-1.84,-1.76,-1.6,-1.3,-1.0,-0.6,-0.3,0,0.3,0.6,1.0,1.3,1.6,1.76,1.84,1.91,1.98,2.05,2.12,2.2,2.5,2.8,3.1,3.4,3.7,4.0,4.3,4.5];
const tessUpper=[1.8,2.1,1.6,1.9,1.7,1.5,2.0,1.7,1.9,1.8,1.0,-0.8,-2.8,-4.3,-5.0,-5.3,-5.8,-6.1,-6.4,-6.5,-6.5,-6.5,-6.3,-6.0,-5.7,-5.2,-4.8,-4.0,-2.3,-0.3,1.4,1.9,1.8,1.7,2.0,1.6,1.9,1.7,2.0,1.8,1.8];
const tessLower=[-1.7,-1.9,-2.1,-1.6,-2.0,-1.8,-1.9,-1.6,-2.0,-2.6,-4.2,-6.1,-7.6,-8.7,-9.1,-9.4,-9.9,-10.2,-10.5,-10.6,-10.7,-10.6,-10.5,-10.2,-9.8,-9.4,-9.1,-8.6,-7.4,-5.8,-4.0,-2.5,-1.8,-2.1,-1.7,-1.9,-2.0,-1.6,-1.9,-2.1,-1.8];
const tessOutHours=[-3.38,-0.05,1.43,3.14];
const tessOutPpt=[3.6,-4.6,-5.2,3.6];

const instruments=["KeplerCam","ULMT","KeplerCam","ULMT","SOTES","CROW","LCO","KAO","KAP","TESS"];
const subscripts=["","","","","","","TFN","","",""];
const dates=["UT 2019-03-30","UT 2019-03-30","UT 2019-04-10","UT 2019-04-11","UT 2019-04-16","UT 2019-04-27","UT 2019-04-27","UT 2019-05-03","UT 2019-05-03","2019-2023"];
const bands=["i","z","i","z","R","i","z","z","i","TESS"];
const gridLabels=["1.01","0.99"];
const gridOffsetsPpt=[10,-10];
const xTicks=[-4,-2,0,2,4];
const panelOffset=0.04;

// ---------- chart ----------
const svg=d3.select("#chart");
const x=d3.scaleLinear().domain([-4.5,4.5]).range([49.5,636]);
const y=d3.scaleLinear().domain([0.62,1.025]).range([1516,-19.5]);
const L=x.range()[0],R=x.range()[1],B=y.range()[0];

svg.append("defs").append("clipPath").attr("id","clip")
  .append("rect").attr("x",L).attr("y",-20).attr("width",R-L).attr("height",B+20);

const gGrid=svg.append("g"), gTitle=svg.append("g");
const gData=svg.append("g").attr("clip-path","url(#clip)");
const gModel=svg.append("g").attr("clip-path","url(#clip)");

const datasets=[
 {pts:keplerCam0330,kind:"dot"},
 {pts:ulmt0330,kind:"dot"},
 {pts:keplerCam0410,kind:"dot"},
 {pts:ulmt0411,kind:"dot"},
 {pts:sotes0416,kind:"err",err:1.2},
 {pts:crow0427,kind:"err",err:1.5},
 {pts:lco0427,kind:"err",err:1.8},
 {pts:kao0503,kind:"diamond"},
 {pts:kap0503,kind:"err",err:1.6},
 {kind:"band"}
];
const model=modelHours.map((h,i)=>[h,modelPpt[i]]);

datasets.forEach((d,k)=>{
  const base=1-panelOffset*k;
  const fy=v=>y(base+v/1000);
  gridOffsetsPpt.forEach((o,j)=>{
    const yy=fy(o);
    gGrid.append("line").attr("x1",L).attr("x2",R).attr("y1",yy).attr("y2",yy)
      .attr("stroke","#dde8f3").attr("stroke-width",2.2);
    [82.5,602.5].forEach(cx=>{
      gGrid.append("rect").attr("x",cx-19).attr("y",yy-7).attr("width",38).attr("height",14).attr("fill","#fff");
      gGrid.append("text").attr("x",cx).attr("y",yy).attr("dy","0.36em").attr("text-anchor","middle")
        .attr("font-size",13).attr("font-style","italic").attr("fill","#8a8a8a").text(gridLabels[j]);
    });
  });
  const ty=fy(13.9);
  const tg=gTitle.append("g");
  const t=tg.append("text").attr("x",x(0)).attr("y",ty).attr("dy","0.36em").attr("text-anchor","middle")
    .attr("font-size",13).attr("fill","#777");
  t.append("tspan").text(instruments[k]);
  if(subscripts[k]){ t.append("tspan").attr("font-size",8.5).attr("dy",3).text(subscripts[k]);
    t.append("tspan").attr("dy",-3).text(" "+dates[k]+" ("); }
  else t.append("tspan").text(" "+dates[k]+" (");
  if(k===9){ t.append("tspan").text(bands[k]+")"); }
  else { t.append("tspan").attr("font-style","italic").text(bands[k]); t.append("tspan").text("\u2032)"); }
  const bb=t.node().getBBox();
  tg.insert("rect","text").attr("x",bb.x-4).attr("y",ty-9.5).attr("width",bb.width+8).attr("height",19)
    .attr("rx",3.5).attr("fill","#fff").attr("stroke","#8c8c8c").attr("stroke-width",1.2);

  const g=gData.append("g");
  if(d.kind==="dot"){
    g.selectAll("circle").data(d.pts).join("circle").attr("cx",p=>x(p[0])).attr("cy",p=>fy(p[1])).attr("r",3.2).attr("fill","#000");
  } else if(d.kind==="err"){
    g.selectAll("line").data(d.pts).join("line").attr("x1",p=>x(p[0])).attr("x2",p=>x(p[0]))
      .attr("y1",p=>fy(p[1]-(p[2]||d.err))).attr("y2",p=>fy(p[1]+(p[2]||d.err))).attr("stroke","#000").attr("stroke-width",2);
    g.selectAll("circle").data(d.pts).join("circle").attr("cx",p=>x(p[0])).attr("cy",p=>fy(p[1])).attr("r",3.0).attr("fill","#000");
  } else if(d.kind==="diamond"){
    const s=4.2;
    g.selectAll("path").data(d.pts).join("path")
      .attr("d",p=>{const cx=x(p[0]),cy=fy(p[1]);return `M${cx},${cy-s}L${cx+s},${cy}L${cx},${cy+s}L${cx-s},${cy}Z`;})
      .attr("fill","#000");
  } else {
    const band=tessHours.map((h,i)=>[h,tessUpper[i],tessLower[i]]);
    g.append("path").datum(band).attr("d",d3.area().x(p=>x(p[0])).y0(p=>fy(p[2])).y1(p=>fy(p[1])).curve(d3.curveMonotoneX))
      .attr("fill","#000").attr("stroke","#000").attr("stroke-width",0.8);
    g.selectAll("circle").data(tessOutHours.map((h,i)=>[h,tessOutPpt[i]])).join("circle")
      .attr("cx",p=>x(p[0])).attr("cy",p=>fy(p[1])).attr("r",3.0).attr("fill","#000");
  }
  gModel.append("path").datum(model).attr("d",d3.line().x(p=>x(p[0])).y(p=>fy(p[1])).curve(d3.curveMonotoneX))
    .attr("fill","none").attr("stroke","#ff0000").attr("stroke-width",3);
});

svg.append("line").attr("x1",L).attr("x2",L).attr("y1",-1).attr("y2",B).attr("stroke","#000").attr("stroke-width",1.2);
svg.append("line").attr("x1",R).attr("x2",R).attr("y1",-1).attr("y2",B).attr("stroke","#000").attr("stroke-width",1.2);

const ax=svg.append("g").attr("transform",`translate(0,${B})`)
  .call(d3.axisBottom(x).tickValues(xTicks).tickSize(5).tickPadding(11).tickSizeOuter(0));
ax.select(".domain").attr("stroke-width",1.2);
ax.selectAll(".tick line").attr("stroke-width",1.1);
ax.selectAll("text").attr("font-size",21).attr("font-family","DejaVu Sans");

svg.append("text").attr("x",x(0)).attr("y",1575).attr("text-anchor","middle").attr("font-size",22).text("Hours from Mid Transit");
svg.append("text").attr("transform","translate(33,749) rotate(-90)").attr("text-anchor","middle").attr("font-size",22).text("Normalized Flux");
</script></body></html>
